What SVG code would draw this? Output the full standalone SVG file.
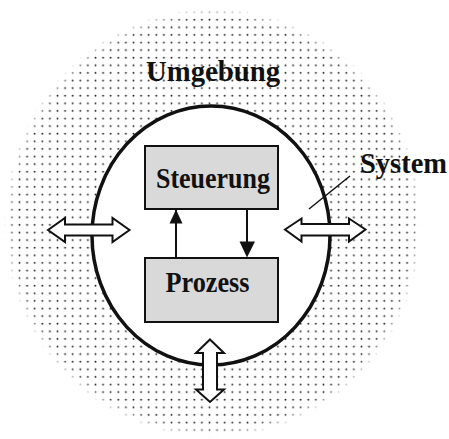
<svg xmlns="http://www.w3.org/2000/svg" width="449" height="439" viewBox="0 0 449 439">
  <style>
    .lbl { font-family: "Liberation Serif", "Times New Roman", serif; font-weight: bold; font-size: 29px; fill: #111; }
    .box { fill: #d9d9d9; stroke: #111; stroke-width: 2; }
    .dbl { fill: #fff; stroke: #111; stroke-width: 2; stroke-linejoin: miter; }
    .flow { stroke: #111; stroke-width: 2; fill: none; }
  </style>
  <defs>
    <pattern id="dots" patternUnits="userSpaceOnUse" width="7.6" height="7.6">
      <circle cx="4.3" cy="4.5" r="0.95" fill="#222"/>
    </pattern>
    <radialGradient id="fade" cx="0.5" cy="0.5" r="0.5">
      <stop offset="0.95" stop-color="#fff"/>
      <stop offset="1" stop-color="#000"/>
    </radialGradient>
    <mask id="edge" maskUnits="userSpaceOnUse" x="0" y="0" width="449" height="439">
      <ellipse cx="213" cy="223" rx="209" ry="215" fill="url(#fade)"/>
    </mask>
  </defs>

  <!-- surrounding environment: dotted disk -->
  <g id="umgebung">
    <ellipse cx="213" cy="223" rx="209" ry="215" fill="url(#dots)" mask="url(#edge)"/>
    <text class="lbl" x="213" y="81" text-anchor="middle" textLength="134" lengthAdjust="spacingAndGlyphs">Umgebung</text>
  </g>

  <!-- system boundary -->
  <g id="system">
    <ellipse cx="211" cy="235.5" rx="119" ry="129.5" fill="#fff" stroke="#111" stroke-width="3.5"/>
    <line x1="350" y1="176" x2="309" y2="209" stroke="#111" stroke-width="1.5"/>
    <text class="lbl" x="360" y="173" textLength="87" lengthAdjust="spacingAndGlyphs">System</text>
  </g>

  <g id="steuerung">
    <rect class="box" x="145" y="146" width="133" height="63"/>
    <text class="lbl" x="213" y="188" text-anchor="middle" textLength="114" lengthAdjust="spacingAndGlyphs">Steuerung</text>
  </g>

  <g id="prozess">
    <rect class="box" x="145" y="258" width="133" height="64"/>
    <text class="lbl" x="207.5" y="292" text-anchor="middle" textLength="84" lengthAdjust="spacingAndGlyphs">Prozess</text>
  </g>

  <g id="connectors">
    <!-- control loop -->
    <line class="flow" x1="176" y1="258" x2="176" y2="210"/>
    <path d="M176,209.5 L169.5,223.5 L182.5,223.5 Z" fill="#111"/>
    <line class="flow" x1="247" y1="209" x2="247" y2="243"/>
    <path d="M247,257.5 L239.5,241.5 L255,241.5 Z" fill="#111"/>
    <!-- exchange with the environment -->
    <polygon class="dbl" points="48,230 65,218 65,224.5 112.5,224.5 112.5,218 129.5,230 112.5,242 112.5,235.5 65,235.5 65,242"/>
    <polygon class="dbl" points="285,229.5 301.5,218.5 301.5,224 349,224 349,218.5 365.5,229.5 349,241.5 349,235.5 301.5,235.5 301.5,241.5"/>
    <polygon class="dbl" points="210,339.5 224,353 217,353 217,389.5 224,389.5 210,402 196,389.5 203,389.5 203,353 196,353"/>
  </g>
</svg>
